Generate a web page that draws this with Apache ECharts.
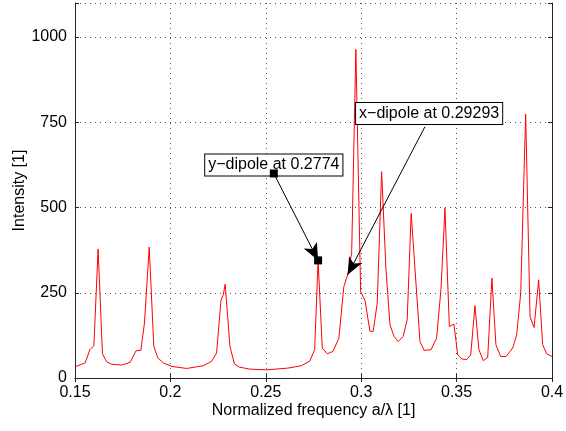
<!DOCTYPE html>
<html>
<head>
<meta charset="utf-8">
<script src="https://cdn.jsdelivr.net/npm/echarts@6/dist/echarts.min.js"></script>
<style>
  html, body { margin: 0; padding: 0; background: #fff; }
  #chart { width: 566px; height: 431px; }
</style>
</head>
<body>
<div id="chart"></div>
<script>
// Normalized frequency a/λ samples
const freq = [
  0.1500, 0.1553, 0.1578, 0.1599, 0.1621, 0.1644, 0.1665, 0.1693, 0.1745, 0.1789,
  0.1820, 0.1845, 0.1864, 0.1889, 0.1913, 0.1934, 0.1964, 0.2008, 0.2085, 0.2172,
  0.2216, 0.2242, 0.2265, 0.2277, 0.2287, 0.2312, 0.2335, 0.2360, 0.2417, 0.2504,
  0.2616, 0.2686, 0.2730, 0.2756, 0.2774, 0.2796, 0.2822, 0.2852, 0.2883, 0.2909,
  0.29293, 0.2950, 0.2972, 0.2997, 0.3020, 0.3046, 0.3063, 0.3084, 0.3107, 0.3130,
  0.3151, 0.3172, 0.3194, 0.3220, 0.3241, 0.3262, 0.3308, 0.3330, 0.3366, 0.3395,
  0.3418, 0.3439, 0.3462, 0.3486, 0.3506, 0.3527, 0.3553, 0.3574, 0.3596, 0.3617,
  0.3640, 0.3663, 0.3685, 0.3706, 0.3731, 0.3759, 0.3794, 0.3815, 0.3836, 0.3862,
  0.3885, 0.3906, 0.3930, 0.3951, 0.3972, 0.4000
];
// Intensity [1]
const intensity = [
  33, 44, 83, 95, 378, 71, 48, 40, 38, 46,
  80, 81, 161, 384, 93, 59, 44, 34, 28, 36,
  49, 73, 227, 244, 275, 93, 42, 32, 26, 24,
  29, 36, 49, 83, 345, 88, 71, 78, 117, 268,
  303, 366, 964, 254, 227, 137, 137, 220, 605, 317,
  156, 122, 107, 122, 171, 483, 107, 81, 83, 117,
  259, 498, 151, 158, 68, 56, 54, 68, 212, 83,
  51, 60, 293, 98, 63, 63, 88, 127, 249, 774,
  180, 148, 288, 98, 71, 63
];

// Annotations: text, text-box anchor, arrow tail, arrow head (data units)
const noteText = ['y\u2212dipole at 0.2774', 'x\u2212dipole at 0.29293'];
const noteBox = [[0.2542, 625], [0.3356, 776]];
const noteTail = [[0.2542, 600], [0.3334, 737]];
const noteHead = [[0.2774, 345], [0.29293, 303]];
const noteTailMark = ['rect', 'none'];

const xTicks = [0.15, 0.2, 0.25, 0.3, 0.35, 0.4];
const yTicks = [0, 250, 500, 750, 1000];

const FONT = '"Liberation Sans", Arial, Helvetica, sans-serif';
const AXIS_COLOR = '#262626';
const FS = 16;

const lineData = freq.map((f, i) => [f, intensity[i]]);

const squares = [];
noteTail.forEach((p, i) => { if (noteTailMark[i] === 'rect') squares.push(p); });
squares.push(noteHead[0]);

const chart = echarts.init(document.getElementById('chart'), null, { renderer: 'canvas' });

const baseX = {
  type: 'value', min: 0.15, max: 0.4, interval: 0.05,
  axisLine: { show: true, lineStyle: { color: AXIS_COLOR, width: 1 } },
  axisTick: { show: true, inside: true, length: 4, lineStyle: { color: AXIS_COLOR } },
  splitLine: { show: false }
};
const baseY = {
  type: 'value', min: 0, max: 1100, interval: 250,
  axisLine: { show: true, lineStyle: { color: AXIS_COLOR, width: 1 } },
  axisTick: { show: true, inside: true, length: 4, lineStyle: { color: AXIS_COLOR } },
  splitLine: { show: false }
};

chart.setOption({
  animation: false,
  backgroundColor: '#fff',
  textStyle: { fontFamily: FONT },
  grid: {
    left: 75, right: 14, top: 3, bottom: 53,
    containLabel: false,
    outerBoundsMode: 'none'
  },
  xAxis: [
    Object.assign({}, baseX, {
      position: 'bottom',
      name: 'Normalized frequency a/\u03bb [1]',
      nameLocation: 'middle', nameGap: 25,
      nameMoveOverlap: false,
      nameTextStyle: { fontSize: FS, color: '#000', fontFamily: FONT },
      axisLabel: {
        fontSize: FS, color: '#000', fontFamily: FONT, margin: 7,
        formatter: v => {
          const t = xTicks.find(k => Math.abs(k - v) < 1e-9);
          return t === undefined ? '' : String(t);
        }
      },
      splitLine: { show: true, lineStyle: { color: '#555', type: [1, 4], width: 1 } }
    }),
    Object.assign({}, baseX, { position: 'top', axisLabel: { show: false } })
  ],
  yAxis: [
    Object.assign({}, baseY, {
      position: 'left',
      name: 'Intensity [1]',
      nameLocation: 'middle', nameGap: 47,
      nameMoveOverlap: false,
      nameTextStyle: { fontSize: FS, color: '#000', fontFamily: FONT },
      axisLabel: {
        fontSize: FS, color: '#000', fontFamily: FONT, margin: 8,
        formatter: v => (yTicks.indexOf(v) >= 0 ? String(v) : '')
      },
      splitLine: { show: true, lineStyle: { color: '#555', type: [1, 4], width: 1 } }
    }),
    Object.assign({}, baseY, { position: 'right', axisLabel: { show: false } })
  ],
  series: [
    {
      name: 'Intensity',
      type: 'line',
      data: lineData,
      showSymbol: false,
      symbol: 'none',
      lineStyle: { color: '#ff0000', width: 1 },
      z: 2,
      markLine: {
        silent: true,
        animation: false,
        lineStyle: { color: '#000', width: 1, type: 'solid' },
        label: { show: false },
        data: noteTail.map((t, i) => [
          { coord: t, symbol: 'none' },
          { coord: noteHead[i], symbol: 'arrow', symbolSize: [11, 17] }
        ]),
        z: 4
      }
    },
    {
      name: 'markers',
      type: 'scatter',
      data: squares,
      symbol: 'rect',
      symbolSize: 8,
      itemStyle: { color: '#000', opacity: 1 },
      silent: true,
      z: 6
    },
    {
      name: 'notes',
      type: 'scatter',
      data: noteBox.map((p, i) => ({ value: p, name: noteText[i] })),
      symbolSize: 0,
      itemStyle: { opacity: 1 },
      silent: true,
      z: 5,
      label: {
        show: true,
        position: 'inside',
        formatter: p => p.name,
        fontSize: FS,
        fontFamily: FONT,
        color: '#000',
        backgroundColor: '#fff',
        borderColor: '#000',
        borderWidth: 1,
        padding: [3, 3, 2, 3]
      }
    }
  ]
});
</script>
</body>
</html>
